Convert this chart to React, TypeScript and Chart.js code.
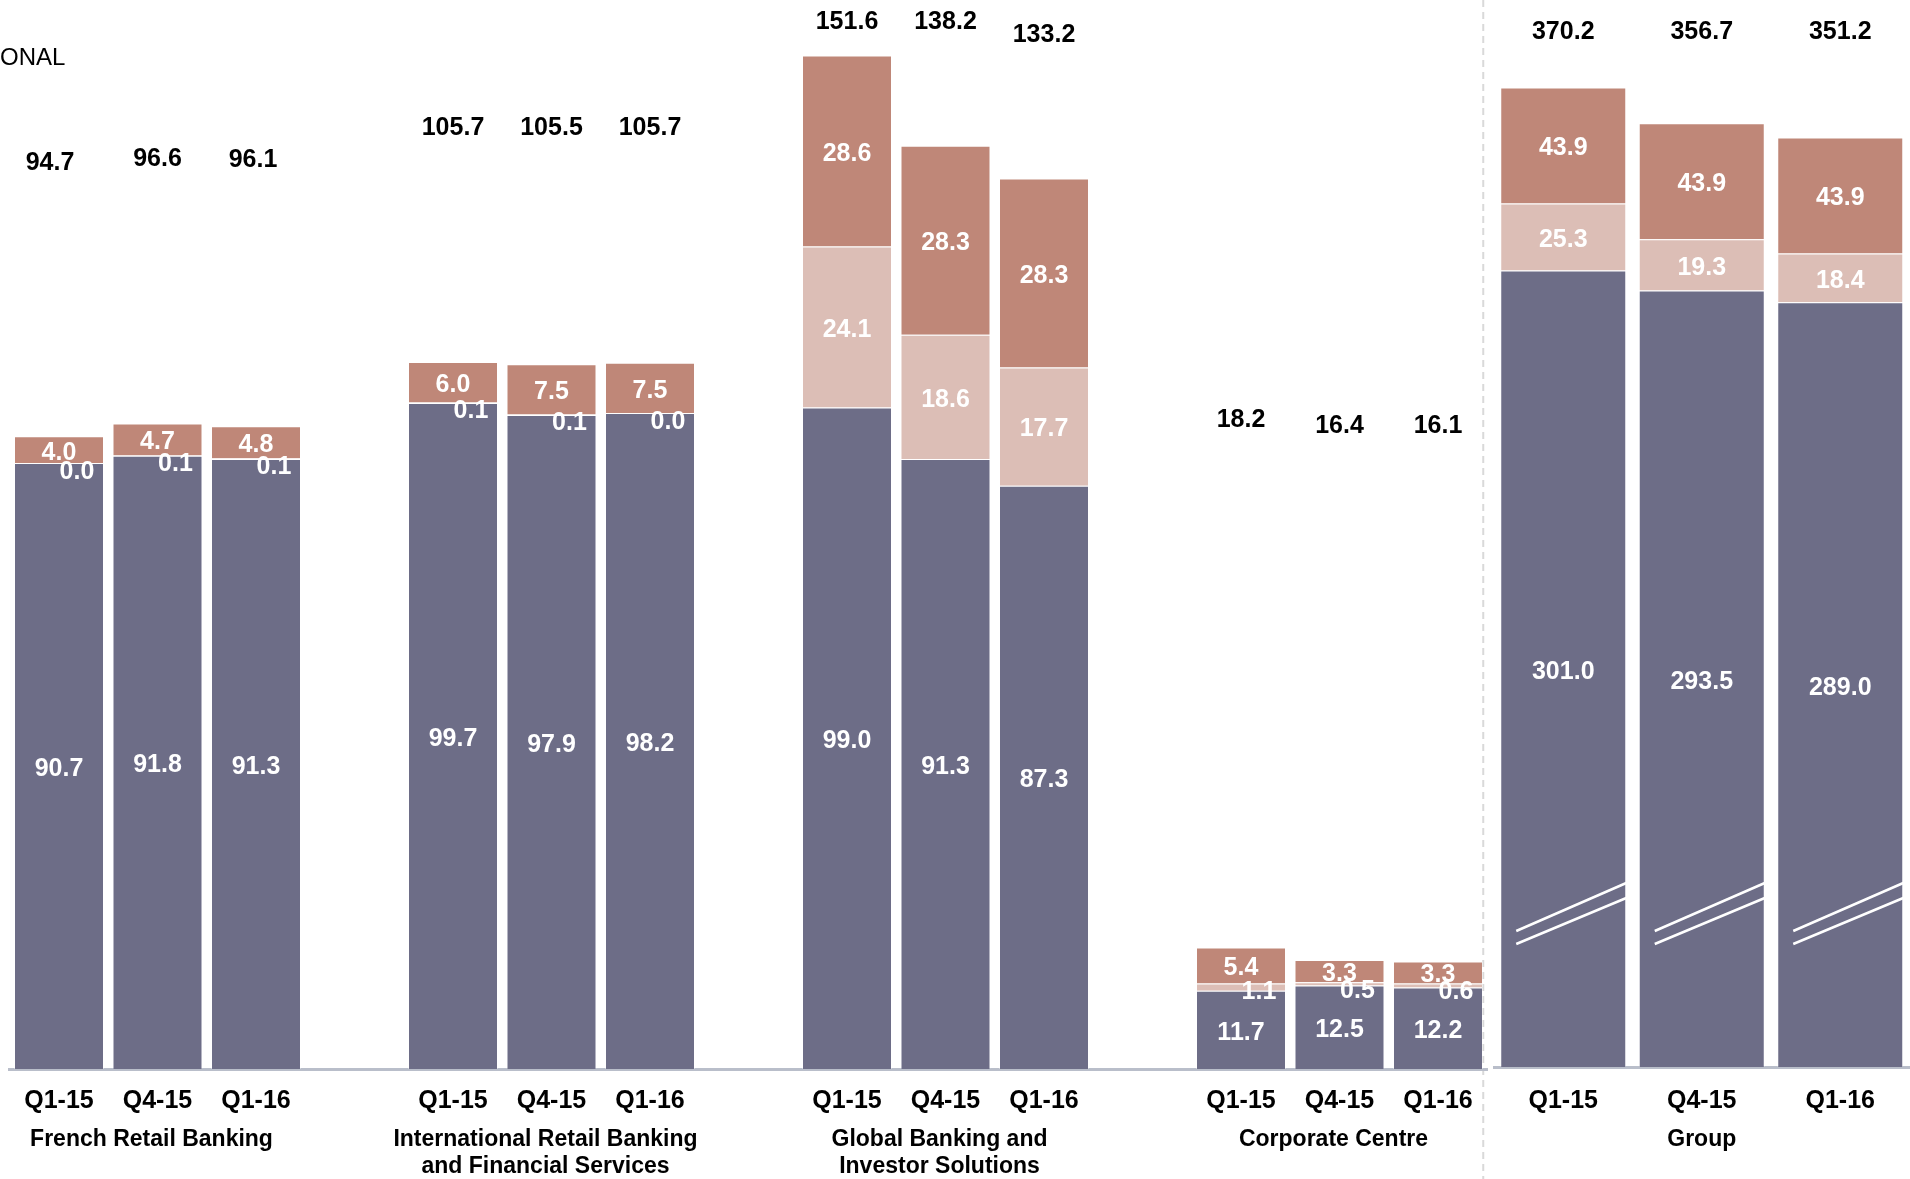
import React, { useEffect, useRef } from 'react';
import { Chart, registerables } from 'chart.js';

Chart.register(...registerables);

// ---------------- DATA ----------------
const quarters = ['Q1-15', 'Q4-15', 'Q1-16'];
const divisions = [
  ['French Retail Banking'],
  ['International Retail Banking', 'and Financial Services'],
  ['Global Banking and', 'Investor Solutions'],
  ['Corporate Centre'],
];
const creditRisk = [
  [90.7, 91.8, 91.3],
  [99.7, 97.9, 98.2],
  [99.0, 91.3, 87.3],
  [11.7, 12.5, 12.2],
];
const marketRisk = [
  [0.0, 0.1, 0.1],
  [0.1, 0.1, 0.0],
  [24.1, 18.6, 17.7],
  [1.1, 0.5, 0.6],
];
const operationalRisk = [
  [4.0, 4.7, 4.8],
  [6.0, 7.5, 7.5],
  [28.6, 28.3, 28.3],
  [5.4, 3.3, 3.3],
];
const divisionTotals = [
  [94.7, 96.6, 96.1],
  [105.7, 105.5, 105.7],
  [151.6, 138.2, 133.2],
  [18.2, 16.4, 16.1],
];
const groupName = 'Group';
const groupCredit = [301.0, 293.5, 289.0];
const groupMarket = [25.3, 19.3, 18.4];
const groupOperational = [43.9, 43.9, 43.9];
const groupTotals = [370.2, 356.7, 351.2];
const clippedLegendText = 'ONAL';

// ---------------- LAYOUT / STYLE ----------------
const FONT = '"Liberation Sans", Arial, Helvetica, sans-serif';
const C_CREDIT = '#6D6D87';
const C_MARKET = '#DCBEB6';
const C_OPER = '#BF8778';
const AXIS = '#B9BECA';
const LABEL_DY = 3;
// level (in axis units) where the total labels sit, as in the original slide
const totalLabelLevel = [
  [136.1, 136.7, 136.5],
  [141.3, 141.3, 141.3],
  [157.1, 157.1, 155.2],
  [97.6, 96.7, 96.7],
];
const totalLabelDx = [
  [-9, 0, -3],
  [0, 0, 0],
  [0, 0, 0],
  [0, 0, 0],
];
const groupTotalLevel = 392.4;

function withGaps<T>(groups: T[][], gap: T): T[] {
  const out: T[] = [];
  groups.forEach((g, i) => {
    out.push(...g);
    if (i < groups.length - 1) out.push(gap);
  });
  return out;
}

const leftLabels = withGaps(divisions.map(() => quarters), '');
const leftCredit = withGaps<number | null>(creditRisk, null);
const leftMarket = withGaps<number | null>(marketRisk, null);
const leftOper = withGaps<number | null>(operationalRisk, null);
const leftTotals = withGaps<number | null>(divisionTotals, null);
const leftTotalLevels = withGaps<number | null>(totalLabelLevel, null);
const leftTotalDx = withGaps<number | null>(totalLabelDx, null);

function drawSegmentLabels(chart: any, smallMarket: boolean) {
  const ctx = chart.ctx;
  ctx.save();
  ctx.textAlign = 'center';
  ctx.textBaseline = 'middle';
  ctx.font = `bold 25px ${FONT}`;
  ctx.fillStyle = '#FFFFFF';
  chart.data.datasets.forEach((ds: any, d: number) => {
    const meta = chart.getDatasetMeta(d);
    meta.data.forEach((el: any, i: number) => {
      const v = ds.data[i];
      if (v == null) return;
      const p = el.getProps(['x', 'y', 'base'], true);
      let lx = p.x;
      let ly = (p.y + p.base) / 2 + LABEL_DY;
      if (smallMarket && d === 1 && v < 2) {
        lx = p.x + 18;
        ly = p.y + 6 + LABEL_DY;
      }
      ctx.fillText(v.toFixed(1), lx, ly);
    });
  });
  ctx.restore();
}

const leftPlugin = {
  id: 'leftDecor',
  beforeDraw(chart: any) {
    const ctx = chart.ctx;
    ctx.save();
    ctx.strokeStyle = '#D9D9D9';
    ctx.lineWidth = 2;
    ctx.setLineDash([7, 5]);
    const x = chart.chartArea.right - 4;
    ctx.beginPath();
    ctx.moveTo(x, 0);
    ctx.lineTo(x, chart.height);
    ctx.stroke();
    ctx.restore();
  },
  afterDatasetsDraw(chart: any) {
    drawSegmentLabels(chart, true);
    const ctx = chart.ctx;
    const xs = chart.scales.x;
    const ys = chart.scales.y;
    ctx.save();
    ctx.textAlign = 'center';
    ctx.textBaseline = 'middle';
    ctx.fillStyle = '#000000';
    ctx.font = `bold 25px ${FONT}`;
    leftTotals.forEach((t, i) => {
      if (t == null) return;
      const lvl = leftTotalLevels[i] as number;
      const dx = (leftTotalDx[i] as number) || 0;
      ctx.fillText(t.toFixed(1), xs.getPixelForValue(i) + dx, ys.getPixelForValue(lvl) + LABEL_DY);
    });
    ctx.font = `bold 23px ${FONT}`;
    divisions.forEach((lines, g) => {
      const mid = g * 4 + 1;
      const x = xs.getPixelForValue(mid) - 6;
      lines.forEach((line, k) => {
        ctx.fillText(line, x, chart.chartArea.bottom + 71 + k * 27);
      });
    });
    ctx.textAlign = 'left';
    ctx.font = `24px ${FONT}`;
    ctx.fillText(clippedLegendText, 0, 58);
    ctx.restore();
  },
};

const rightPlugin = {
  id: 'rightDecor',
  afterDatasetsDraw(chart: any) {
    const ctx = chart.ctx;
    const meta = chart.getDatasetMeta(0);
    ctx.save();
    ctx.strokeStyle = '#FFFFFF';
    ctx.lineWidth = 2.5;
    meta.data.forEach((el: any) => {
      const p = el.getProps(['x', 'base', 'width'], true);
      const left = p.x - p.width / 2;
      const right = p.x + p.width / 2;
      ctx.beginPath();
      ctx.moveTo(left + 16, p.base - 136);
      ctx.lineTo(right, p.base - 184);
      ctx.moveTo(left + 16, p.base - 123);
      ctx.lineTo(right, p.base - 169);
      ctx.stroke();
    });
    ctx.restore();
    drawSegmentLabels(chart, false);
    const xs = chart.scales.x;
    const ys = chart.scales.y;
    ctx.save();
    ctx.textAlign = 'center';
    ctx.textBaseline = 'middle';
    ctx.fillStyle = '#000000';
    ctx.font = `bold 25px ${FONT}`;
    groupTotals.forEach((t, i) => {
      ctx.fillText(t.toFixed(1), xs.getPixelForValue(i), ys.getPixelForValue(groupTotalLevel) + LABEL_DY);
    });
    ctx.font = `bold 23px ${FONT}`;
    ctx.fillText(groupName, xs.getPixelForValue(1), chart.chartArea.bottom + 73);
    ctx.restore();
  },
};

function barDataset(label: string, data: (number | null)[], color: string) {
  return {
    label,
    data,
    backgroundColor: color,
    borderColor: 'rgba(255,255,255,0.35)',
    borderWidth: 1,
  };
}

function xAxis(height: number, padding: number) {
  return {
    stacked: true,
    grid: { display: false, drawTicks: false },
    border: { display: true, color: AXIS, width: 3 },
    ticks: {
      color: '#000000',
      font: { family: FONT, size: 25, weight: 'bold' as const },
      padding,
      autoSkip: false,
      maxRotation: 0,
    },
    afterFit: (s: any) => {
      s.height = height;
    },
  };
}

export default function App() {
  const leftRef = useRef<HTMLCanvasElement>(null);
  const rightRef = useRef<HTMLCanvasElement>(null);

  useEffect(() => {
    document.body.style.margin = '0';
    document.body.style.overflow = 'hidden';
    const left = new Chart(leftRef.current as HTMLCanvasElement, {
      type: 'bar',
      data: {
        labels: leftLabels,
        datasets: [
          barDataset('Credit risk', leftCredit, C_CREDIT),
          barDataset('Market risk', leftMarket, C_MARKET),
          barDataset('Operational risk', leftOper, C_OPER),
        ] as any,
      },
      options: {
        responsive: false,
        animation: false,
        layout: { padding: { left: 9.75, right: 2.75, top: 0, bottom: 0 } },
        plugins: { legend: { display: false }, tooltip: { enabled: false } },
        datasets: { bar: { categoryPercentage: 1, barPercentage: 90 / 98.5 } },
        scales: {
          x: xAxis(110, 17) as any,
          y: { stacked: true, display: false, min: 0, max: 160 },
        },
      },
      plugins: [leftPlugin],
    });
    const right = new Chart(rightRef.current as HTMLCanvasElement, {
      type: 'bar',
      data: {
        labels: quarters,
        datasets: [
          barDataset('Credit risk', groupCredit, C_CREDIT),
          barDataset('Market risk', groupMarket, C_MARKET),
          barDataset('Operational risk', groupOperational, C_OPER),
        ] as any,
      },
      options: {
        responsive: false,
        animation: false,
        layout: { padding: { left: 4, right: 0.5, top: 0, bottom: 0 } },
        plugins: { legend: { display: false }, tooltip: { enabled: false } },
        datasets: { bar: { categoryPercentage: 1, barPercentage: 126 / 138.5 } },
        scales: {
          x: xAxis(112, 19) as any,
          y: { stacked: true, display: false, min: 0, max: 1067 / 2.646 },
        },
      },
      plugins: [rightPlugin],
    });
    return () => {
      left.destroy();
      right.destroy();
    };
  }, []);

  return (
    <div style={{ position: 'relative', width: 1910, height: 1179, background: '#FFFFFF' }}>
      <canvas
        ref={leftRef}
        width={1490}
        height={1179}
        style={{ position: 'absolute', left: 0, top: 0 }}
      />
      <canvas
        ref={rightRef}
        width={420}
        height={1179}
        style={{ position: 'absolute', left: 1490, top: 0 }}
      />
    </div>
  );
}
